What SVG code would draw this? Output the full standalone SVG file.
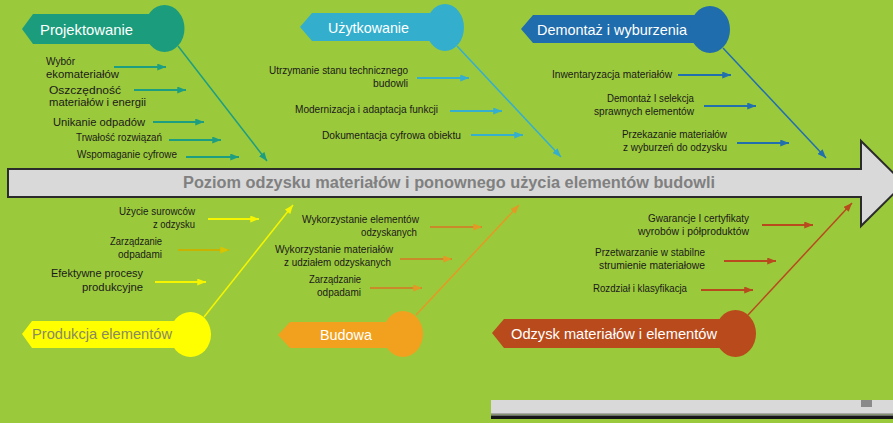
<svg xmlns="http://www.w3.org/2000/svg" width="893" height="423" viewBox="0 0 893 423">
<style>
  text { font-family: "Liberation Sans", Arial, sans-serif; }
  .lbl { fill: #ffffff; font-size: 15px; }
  .it { fill: #1a1a1a; font-size: 10px; }
  .it11 { fill: #1a1a1a; font-size: 11px; }
  .end { text-anchor: end; }
  .sub { fill: none; stroke-width: 2; }
  .diag { fill: none; stroke-width: 1.5; }
</style>
<defs>
  <marker id="m-teal" viewBox="0 0 10 8" refX="10" refY="4" markerWidth="9" markerHeight="7" markerUnits="userSpaceOnUse" orient="auto"><path d="M0,0 L10,4 L0,8 z" fill="#1E9E80"/></marker>
  <marker id="m-lblue" viewBox="0 0 10 8" refX="10" refY="4" markerWidth="9" markerHeight="7" markerUnits="userSpaceOnUse" orient="auto"><path d="M0,0 L10,4 L0,8 z" fill="#36AECD"/></marker>
  <marker id="m-blue" viewBox="0 0 10 8" refX="10" refY="4" markerWidth="9" markerHeight="7" markerUnits="userSpaceOnUse" orient="auto"><path d="M0,0 L10,4 L0,8 z" fill="#226FAE"/></marker>
  <marker id="m-yellow" viewBox="0 0 10 8" refX="10" refY="4" markerWidth="9" markerHeight="7" markerUnits="userSpaceOnUse" orient="auto"><path d="M0,0 L10,4 L0,8 z" fill="#F5F500"/></marker>
  <marker id="m-olive" viewBox="0 0 10 8" refX="10" refY="4" markerWidth="9" markerHeight="7" markerUnits="userSpaceOnUse" orient="auto"><path d="M0,0 L10,4 L0,8 z" fill="#D8C400"/></marker>
  <marker id="m-orange" viewBox="0 0 10 8" refX="10" refY="4" markerWidth="9" markerHeight="7" markerUnits="userSpaceOnUse" orient="auto"><path d="M0,0 L10,4 L0,8 z" fill="#E39A24"/></marker>
  <marker id="m-rust" viewBox="0 0 10 8" refX="10" refY="4" markerWidth="9" markerHeight="7" markerUnits="userSpaceOnUse" orient="auto"><path d="M0,0 L10,4 L0,8 z" fill="#B84A1E"/></marker>
</defs>

<rect x="0" y="0" width="893" height="423" fill="#9BC93C"/>

<!-- bottom gray bar -->
<g id="bottom-bar">
  <rect x="491" y="400" width="402" height="13" fill="#D9D9D9"/>
  <rect x="491" y="413" width="402" height="1.5" fill="#A8A8A8"/>
  <rect x="491" y="414.5" width="402" height="1.5" fill="#6a6a6a"/>
  <rect x="491" y="416" width="402" height="3" fill="#151515"/>
  <rect x="861" y="400" width="11" height="7" fill="#8a8a8a"/>
</g>

<!-- main spine arrow -->
<g id="spine">
  <polygon points="8,169 861,169 861,141 904,183.5 861,226 861,197 8,197" fill="#D9D9D9" stroke="#2b2b2b" stroke-width="2"/>
  <text x="449" y="188" text-anchor="middle" font-size="16" font-weight="bold" fill="#808080" textLength="532" lengthAdjust="spacingAndGlyphs">Poziom odzysku materiałów i ponownego użycia elementów budowli</text>
</g>

<!-- connectors -->
<g id="connectors">
  <!-- Projektowanie -->
  <line class="diag" x1="178" y1="46" x2="267" y2="161" stroke="#1E9E80" marker-end="url(#m-teal)"/>
  <line class="sub" x1="114" y1="67" x2="166" y2="67" stroke="#1E9E80" marker-end="url(#m-teal)"/>
  <line class="sub" x1="134" y1="90" x2="186" y2="90" stroke="#1E9E80" marker-end="url(#m-teal)"/>
  <line class="sub" x1="153" y1="122" x2="204" y2="122" stroke="#1E9E80" marker-end="url(#m-teal)"/>
  <line class="sub" x1="169" y1="140" x2="221" y2="140" stroke="#1E9E80" marker-end="url(#m-teal)"/>
  <line class="sub" x1="186" y1="157" x2="239" y2="157" stroke="#1E9E80" marker-end="url(#m-teal)"/>
  <!-- Użytkowanie -->
  <line class="diag" x1="457" y1="46" x2="561" y2="157" stroke="#36AECD" marker-end="url(#m-lblue)"/>
  <line class="sub" x1="417" y1="78" x2="469" y2="78" stroke="#36AECD" marker-end="url(#m-lblue)"/>
  <line class="sub" x1="450" y1="111" x2="502" y2="111" stroke="#36AECD" marker-end="url(#m-lblue)"/>
  <line class="sub" x1="471" y1="135" x2="523" y2="135" stroke="#36AECD" marker-end="url(#m-lblue)"/>
  <!-- Demontaż -->
  <line class="diag" x1="723" y1="48" x2="826" y2="158" stroke="#226FAE" marker-end="url(#m-blue)"/>
  <line class="sub" x1="678" y1="75" x2="731" y2="75" stroke="#226FAE" marker-end="url(#m-blue)"/>
  <line class="sub" x1="704" y1="106" x2="756" y2="106" stroke="#226FAE" marker-end="url(#m-blue)"/>
  <line class="sub" x1="737" y1="143" x2="789" y2="143" stroke="#226FAE" marker-end="url(#m-blue)"/>
  <!-- Produkcja -->
  <line class="diag" x1="204" y1="317" x2="293" y2="205" stroke="#F5F500" marker-end="url(#m-yellow)"/>
  <line class="sub" x1="208" y1="219" x2="259" y2="219" stroke="#F5F500" marker-end="url(#m-yellow)"/>
  <line class="sub" x1="178" y1="250" x2="229" y2="250" stroke="#C8B400" marker-end="url(#m-olive)"/>
  <line class="sub" x1="155" y1="282" x2="206" y2="282" stroke="#F5F500" marker-end="url(#m-yellow)"/>
  <!-- Budowa -->
  <line class="diag" x1="416" y1="315" x2="519" y2="205" stroke="#E39A24" marker-end="url(#m-orange)"/>
  <line class="sub" x1="430" y1="227" x2="482" y2="227" stroke="#C98A2A" marker-end="url(#m-orange)"/>
  <line class="sub" x1="400" y1="259" x2="452" y2="259" stroke="#C98A2A" marker-end="url(#m-orange)"/>
  <line class="sub" x1="370" y1="288" x2="422" y2="288" stroke="#C98A2A" marker-end="url(#m-orange)"/>
  <!-- Odzysk -->
  <line class="diag" x1="748" y1="315" x2="852" y2="203" stroke="#B84A1E" marker-end="url(#m-rust)"/>
  <line class="sub" x1="762" y1="225" x2="813" y2="225" stroke="#B84A1E" marker-end="url(#m-rust)"/>
  <line class="sub" x1="724" y1="261" x2="776" y2="261" stroke="#B84A1E" marker-end="url(#m-rust)"/>
  <line class="sub" x1="701" y1="290" x2="753" y2="290" stroke="#B84A1E" marker-end="url(#m-rust)"/>
</g>

<!-- nodes -->
<g id="projektowanie">
  <polygon points="22,29 33,14 165,14 165,44 33,44" fill="#1B9D7D"/>
  <ellipse cx="164.5" cy="28.5" rx="20" ry="23.5" fill="#1B9D7D"/>
  <text class="lbl" x="40" y="35" textLength="93" lengthAdjust="spacingAndGlyphs">Projektowanie</text>
  <text class="it11" x="46" y="65" textLength="29" lengthAdjust="spacingAndGlyphs">Wybór</text>
  <text class="it11" x="46" y="78" textLength="73" lengthAdjust="spacingAndGlyphs">ekomateriałów</text>
  <text class="it11" x="49" y="94" textLength="72" lengthAdjust="spacingAndGlyphs">Oszczędność</text>
  <text class="it11" x="49" y="106" textLength="97" lengthAdjust="spacingAndGlyphs">materiałów i energii</text>
  <text class="it11" x="53" y="126" textLength="92" lengthAdjust="spacingAndGlyphs">Unikanie odpadów</text>
  <text class="it" x="76" y="141" textLength="86" lengthAdjust="spacingAndGlyphs">Trwałość rozwiązań</text>
  <text class="it" x="77" y="158" textLength="100" lengthAdjust="spacingAndGlyphs">Wspomaganie cyfrowe</text>
</g>

<g id="uzytkowanie">
  <polygon points="300,27 312,13 445,13 445,41 312,41" fill="#33AFCD"/>
  <ellipse cx="445" cy="27.5" rx="19" ry="23.5" fill="#33AFCD"/>
  <text class="lbl" x="328" y="33" textLength="81" lengthAdjust="spacingAndGlyphs">Użytkowanie</text>
  <text class="it end" x="408" y="74" textLength="139" lengthAdjust="spacingAndGlyphs">Utrzymanie stanu technicznego</text>
  <text class="it end" x="408" y="87" textLength="35" lengthAdjust="spacingAndGlyphs">budowli</text>
  <text class="it" x="295" y="113" textLength="143" lengthAdjust="spacingAndGlyphs">Modernizacja i adaptacja funkcji</text>
  <text class="it" x="322" y="139" textLength="139" lengthAdjust="spacingAndGlyphs">Dokumentacja cyfrowa obiektu</text>
</g>

<g id="demontaz">
  <polygon points="521,29 533,15 710,15 710,43 533,43" fill="#1F6DAC"/>
  <ellipse cx="710" cy="29.5" rx="20" ry="23.5" fill="#1F6DAC"/>
  <text class="lbl" x="537" y="35" textLength="150" lengthAdjust="spacingAndGlyphs">Demontaż i wyburzenia</text>
  <text class="it" x="552" y="78" textLength="120" lengthAdjust="spacingAndGlyphs">Inwentaryzacja materiałów</text>
  <text class="it end" x="694" y="102" textLength="87" lengthAdjust="spacingAndGlyphs">Demontaż I selekcja</text>
  <text class="it end" x="694" y="115" textLength="100" lengthAdjust="spacingAndGlyphs">sprawnych elementów</text>
  <text class="it end" x="727" y="138" textLength="105" lengthAdjust="spacingAndGlyphs">Przekazanie materiałów</text>
  <text class="it end" x="727" y="151" textLength="104" lengthAdjust="spacingAndGlyphs">z wyburzeń do odzysku</text>
</g>

<g id="produkcja">
  <polygon points="22,334 32,321 190,321 190,348 32,348" fill="#FFFF00"/>
  <ellipse cx="190.5" cy="334.5" rx="20.5" ry="22.5" fill="#FFFF00"/>
  <text x="32" y="339" font-size="15" fill="#8A8A60" textLength="140" lengthAdjust="spacingAndGlyphs">Produkcja elementów</text>
  <text class="it11 end" x="195" y="215" textLength="76" lengthAdjust="spacingAndGlyphs">Użycie surowców</text>
  <text class="it11 end" x="195" y="228" textLength="42" lengthAdjust="spacingAndGlyphs">z odzysku</text>
  <text class="it11 end" x="162" y="245" textLength="52" lengthAdjust="spacingAndGlyphs">Zarządzanie</text>
  <text class="it11 end" x="162" y="258" textLength="44" lengthAdjust="spacingAndGlyphs">odpadami</text>
  <text class="it11 end" x="143" y="277" font-size="12" textLength="92" lengthAdjust="spacingAndGlyphs">Efektywne procesy</text>
  <text class="it11 end" x="143" y="291" font-size="12" textLength="61" lengthAdjust="spacingAndGlyphs">produkcyjne</text>
</g>

<g id="budowa">
  <polygon points="278,335 290,322 403,322 403,348 290,348" fill="#F2A11F"/>
  <ellipse cx="403" cy="334" rx="20" ry="23" fill="#F2A11F"/>
  <text class="lbl" x="320" y="340" textLength="52" lengthAdjust="spacingAndGlyphs">Budowa</text>
  <text class="it end" x="419" y="223" textLength="117" lengthAdjust="spacingAndGlyphs">Wykorzystanie elementów</text>
  <text class="it end" x="417" y="236" textLength="56" lengthAdjust="spacingAndGlyphs">odzyskanych</text>
  <text class="it end" x="393" y="253" textLength="118" lengthAdjust="spacingAndGlyphs">Wykorzystanie materiałów</text>
  <text class="it end" x="391" y="266" textLength="107" lengthAdjust="spacingAndGlyphs">z udziałem odzyskanych</text>
  <text class="it end" x="361" y="283" textLength="52" lengthAdjust="spacingAndGlyphs">Zarządzanie</text>
  <text class="it end" x="361" y="296" textLength="44" lengthAdjust="spacingAndGlyphs">odpadami</text>
</g>

<g id="odzysk">
  <polygon points="492,333 504,319 736,319 736,348 504,348" fill="#B84A1B"/>
  <ellipse cx="735.5" cy="333.5" rx="20.5" ry="23.5" fill="#B84A1B"/>
  <text class="lbl" x="511" y="339" textLength="206" lengthAdjust="spacingAndGlyphs">Odzysk materiałów i elementów</text>
  <text class="it end" x="749" y="222" textLength="101" lengthAdjust="spacingAndGlyphs">Gwarancje I certyfikaty</text>
  <text class="it end" x="749" y="235" textLength="111" lengthAdjust="spacingAndGlyphs">wyrobów i półproduktów</text>
  <text class="it" x="595" y="256" textLength="110" lengthAdjust="spacingAndGlyphs">Przetwarzanie w stabilne</text>
  <text class="it" x="599" y="269" textLength="106" lengthAdjust="spacingAndGlyphs">strumienie materiałowe</text>
  <text class="it" x="593" y="292" textLength="94" lengthAdjust="spacingAndGlyphs">Rozdział i klasyfikacja</text>
</g>
</svg>
